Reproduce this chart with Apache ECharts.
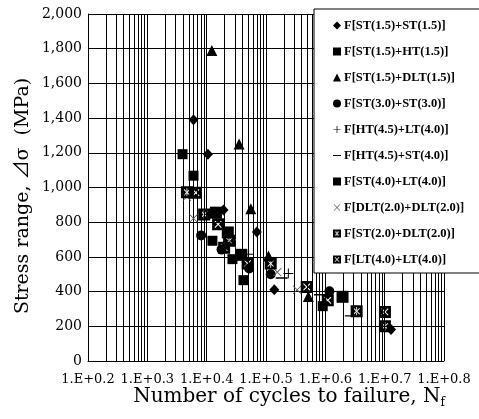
<!DOCTYPE html>
<html>
<head>
<meta charset="utf-8">
<script src="https://cdn.jsdelivr.net/npm/echarts@6/dist/echarts.min.js"></script>
<style>html,body{margin:0;padding:0;background:#fff}#c{width:479px;height:419px}</style>
</head>
<body>
<div id="c"></div>
<script>
// ---- data (cycles N, stress range MPa) ----
const xTickLabels = ['1.E+0.2','1.E+0.3','1.E+0.4','1.E+0.5','1.E+0.6','1.E+0.7','1.E+0.8'];
const seriesNames = [
  'F[ST(1.5)+ST(1.5)]','F[ST(1.5)+HT(1.5)]','F[ST(1.5)+DLT(1.5)]','F[ST(3.0)+ST(3.0)]',
  'F[HT(4.5)+LT(4.0)]','F[HT(4.5)+ST(4.0)]','F[ST(4.0)+LT(4.0)]','F[DLT(2.0)+DLT(2.0)]',
  'F[ST(2.0)+DLT(2.0)]','F[LT(4.0)+LT(4.0)]'
];
const stSt15 = [[6000,1390],[10500,1192],[19200,870],[70000,743],[138000,410],[12800000,181]];
const stHt15 = [[3920,1192],[6000,1068],[12500,693],[27200,587],[41700,466],[904000,316]];
const stDlt15 = [[12200,1790],[35200,1251],[55500,878],[110000,605],[518000,372]];
const stSt30 = [[8070,724],[17800,642],[52000,533],[120000,500],[1170000,402]];
const htLt = [[50100,615],[238000,505]];
const htSt = [[184000,478],[813000,382],[2690000,260]];
const stLt40 = [[14300,855],[22700,741],[38000,612],[1950000,370]];
const dltDlt20 = [[4650,947],[6000,822],[26500,678],[155000,512],[335000,410]];
const stDlt20 = [[4650,972],[9080,845],[23900,693],[120000,562],[3370000,287],[10100000,200]];
const ltLt40 = [[6580,970],[15600,788],[19700,653],[49000,562],[486000,427],[1100000,350],[10100000,283]];

// ---- symbols ----
const corners = 'M0,0 L0.01,0 L0,0.01 Z M20,20 L19.99,20 L20,19.99 Z ';
const plusPath = 'path://' + corners + 'M9.1,1 H10.9 V9.1 H19 V10.9 H10.9 V19 H9.1 V10.9 H1 V9.1 H9.1 Z';
const minusPath = 'path://' + corners + 'M0,8.8 H20 V11.2 H0 Z';
const crossPath = 'path://' + corners + 'M2,3.1 L3.1,2 L10,8.9 L16.9,2 L18,3.1 L11.1,10 L18,16.9 L16.9,18 L10,11.1 L3.1,18 L2,16.9 L8.9,10 Z';
const boxCross = 'path://M0,0 H20 V20 H0 Z M8.8,10 L4,14.8 L5.2,16 L10,11.2 L14.8,16 L16,14.8 L11.2,10 L16,5.2 L14.8,4 L10,8.8 L5.2,4 L4,5.2 Z';
const boxStar = 'path://M0,0 H20 V20 H0 Z M8.9,10 L4.5,14.4 L5.6,15.5 L10,11.1 L14.4,15.5 L15.5,14.4 L11.1,10 L15.5,5.6 L14.4,4.5 L10,8.9 L5.6,4.5 L4.5,5.6 Z M9.3,3 V8 H10.7 V3 Z M9.3,12 V17 H10.7 V12 Z';

const chart = echarts.init(document.getElementById('c'));
function sc(i, data, symbol, size, color) {
  return {name: seriesNames[i], type: 'scatter', data: data, symbol: symbol, symbolSize: size,
    itemStyle: {color: color || '#000', opacity: 1}, z: 5 + i, emphasis: {disabled: true}};
}
const serif = 'DejaVu Serif';
chart.setOption({
  animation: false,
  backgroundColor: '#fff',
  grid: {left: 88, right: 35, top: 14, bottom: 58},
  xAxis: {
    type: 'log', logBase: 10, min: 100, max: 100000000, splitNumber: 6,
    axisLine: {show: true, lineStyle: {color: '#000', width: 1}},
    axisTick: {show: false},
    minorTick: {show: false, splitNumber: 9},
    splitLine: {show: true, lineStyle: {color: '#000', width: 1}},
    minorSplitLine: {show: true, lineStyle: {color: '#000', width: 1}},
    axisLabel: {color: '#000', fontFamily: serif, fontSize: 13, margin: 12, showMinLabel: true, showMaxLabel: true,
      formatter: v => xTickLabels[Math.round(Math.log10(v)) - 2]}
  },
  yAxis: {
    type: 'value', min: 0, max: 2000, interval: 200,
    axisLine: {show: true, lineStyle: {color: '#000', width: 1}},
    axisTick: {show: false},
    splitLine: {show: true, lineStyle: {color: '#000', width: 1}},
    axisLabel: {color: '#000', fontFamily: serif, fontSize: 14, margin: 6,
      formatter: v => v.toLocaleString('en-US')}
  },
  graphic: [
    {type: 'text', x: 289, y: 397, style: {
      text: 'Number of cycles to failure, N{sub|f}', fill: '#000', font: '20px "DejaVu Serif"',
      align: 'center', verticalAlign: 'middle',
      rich: {sub: {fontSize: 12, fontFamily: serif, fill: '#000', padding: [11, 0, 0, 0]}}}},
    {type: 'text', x: 23, y: 196, rotation: Math.PI / 2, style: {
      text: 'Stress range, \u22BF\u03C3  (MPa)', fill: '#000', font: '19px "DejaVu Serif", "Noto Sans CJK KR"',
      align: 'center', verticalAlign: 'middle'}}
  ],
  legend: {
    orient: 'vertical', left: 314, top: 9, padding: [10, 30, 7, 19], itemGap: 13,
    itemWidth: 8, itemHeight: 8, backgroundColor: '#fff', borderColor: '#000', borderWidth: 1,
    textStyle: {fontFamily: 'Liberation Serif', fontWeight: 'bold', fontSize: 12.5, color: '#000', padding: [0, 0, 0, -2]},
    data: seriesNames, selectedMode: false, z: 10
  },
  series: [
    sc(0, stSt15, 'diamond', [10, 11]),
    sc(1, stHt15, 'rect', 10),
    sc(2, stDlt15, 'triangle', 11),
    sc(3, stSt30, 'circle', 10),
    sc(4, htLt, plusPath, 11),
    sc(5, htSt, minusPath, 12),
    sc(6, stLt40, 'rect', 12),
    sc(7, dltDlt20, crossPath, 11, '#555'),
    sc(8, stDlt20, boxStar, 12),
    sc(9, ltLt40, boxCross, 12)
  ]
});
</script>
</body>
</html>
